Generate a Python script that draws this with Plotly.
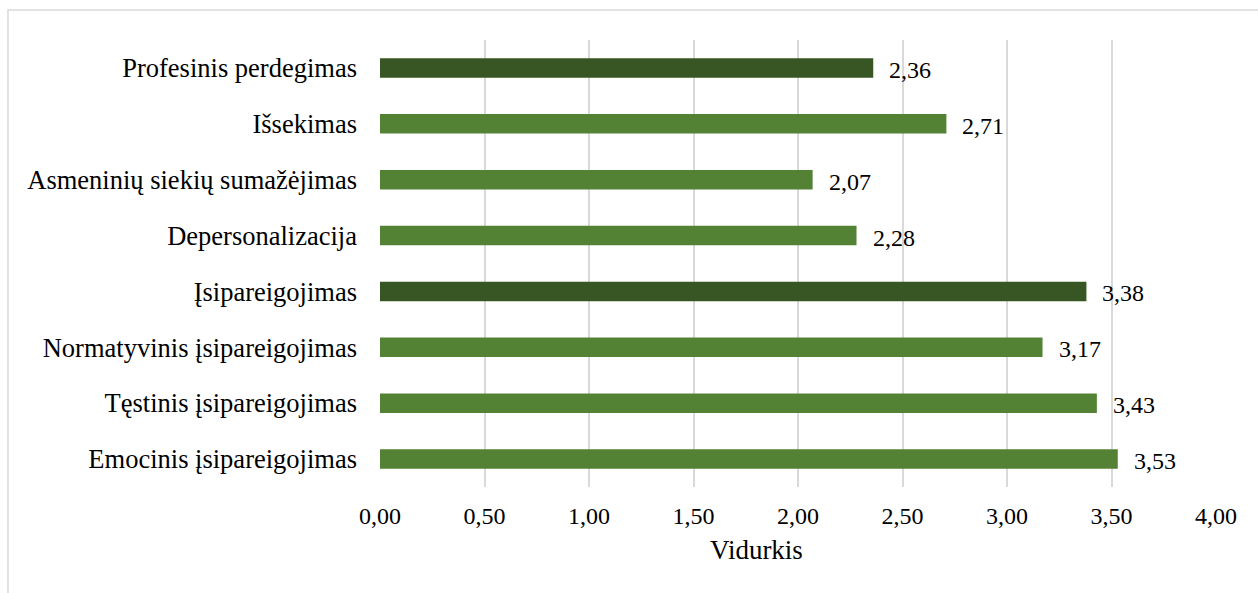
import plotly.graph_objects as go

# Scale means, listed top to bottom
categories = [
    "Profesinis perdegimas",
    "Išsekimas",
    "Asmeninių siekių sumažėjimas",
    "Depersonalizacija",
    "Įsipareigojimas",
    "Normatyvinis įsipareigojimas",
    "Tęstinis įsipareigojimas",
    "Emocinis įsipareigojimas",
]
means = [2.36, 2.71, 2.07, 2.28, 3.38, 3.17, 3.43, 3.53]
is_total = [True, False, False, False, True, False, False, False]

tick_vals = [0, 0.5, 1, 1.5, 2, 2.5, 3, 3.5, 4]
tick_text = ["0,00", "0,50", "1,00", "1,50", "2,00", "2,50", "3,00", "3,50", "4,00"]
x_title = "Vidurkis"

DARK = "#375623"
LIGHT = "#548235"
GRID = "#d9d9d9"
FONT = "'Liberation Serif', 'Times New Roman', serif"


def fmt(v):
    return f"{v:.2f}".replace(".", ",")


fig = go.Figure(
    go.Bar(
        x=means,
        y=categories,
        orientation="h",
        marker=dict(color=[DARK if t else LIGHT for t in is_total], line=dict(width=0)),
        hoverinfo="skip",
    )
)

# value labels to the right of each bar
for c, v in zip(categories, means):
    fig.add_annotation(
        x=v, y=c, text=fmt(v), showarrow=False,
        xanchor="left", xshift=14, yshift=-2,
        font=dict(family=FONT, size=24, color="#000000"),
    )

# axis title, centred on the whole chart frame
fig.add_annotation(
    x=0.45, y=-0.141, xref="paper", yref="paper", text=x_title,
    showarrow=False, xanchor="center", yanchor="middle",
    font=dict(family=FONT, size=27, color="#000000"),
)

# outer chart border
fig.add_shape(
    type="rect", xref="paper", yref="paper",
    x0=-0.445, x1=1.2, y0=-0.3, y1=1.067,
    line=dict(color=GRID, width=1.5), fillcolor="rgba(0,0,0,0)", layer="below",
)

fig.update_layout(
    width=1258,
    height=593,
    margin=dict(l=380, r=42, t=40, b=106),
    paper_bgcolor="white",
    plot_bgcolor="white",
    bargap=0.65,
    showlegend=False,
    font=dict(family=FONT, size=24, color="#000000"),
    xaxis=dict(
        range=[0, 4],
        tickvals=tick_vals,
        ticktext=tick_text,
        showgrid=True,
        gridcolor=GRID,
        gridwidth=1.5,
        zeroline=False,
        showline=False,
        ticks="",
        ticklabelstandoff=12,
        tickfont=dict(family=FONT, size=24),
        fixedrange=True,
    ),
    yaxis=dict(
        autorange="reversed",
        showgrid=False,
        zeroline=False,
        showline=False,
        ticks="",
        ticklabelstandoff=22,
        tickfont=dict(family=FONT, size=26.5),
        fixedrange=True,
    ),
)

fig.write_html("out.html")
